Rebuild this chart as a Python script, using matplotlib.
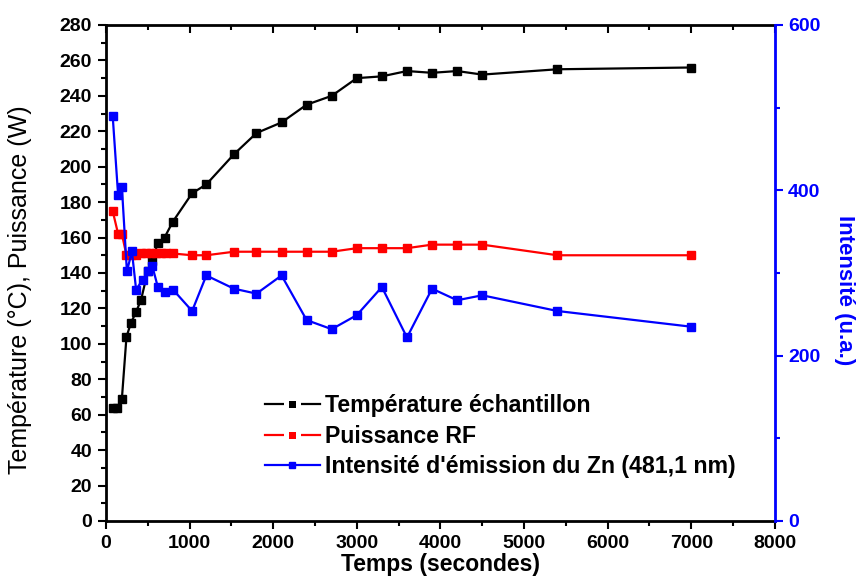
import numpy as np
import matplotlib
matplotlib.use("Agg")
import matplotlib.pyplot as plt
from matplotlib.ticker import MultipleLocator
from matplotlib.lines import Line2D

plt.rcParams['font.family'] = ['Liberation Sans', 'DejaVu Sans']

# temperature of the sample (deg C)
t_temp = [80, 130, 190, 245, 300, 360, 420, 500, 555, 620, 700, 800,
          1030, 1200, 1530, 1800, 2100, 2400, 2700, 3000, 3300, 3600,
          3900, 4200, 4500, 5400, 7000]
temp = [64, 64, 69, 104, 112, 118, 125, 141, 147, 157, 160, 169,
        185, 190, 207, 219, 225, 235, 240, 250, 251, 254,
        253, 254, 252, 255, 256]

# RF power (W)
t_rf = [80, 145, 190, 245, 300, 360, 420, 480, 540, 600, 660, 720, 800,
        1030, 1200, 1530, 1800, 2100, 2400, 2700, 3000, 3300, 3600,
        3900, 4200, 4500, 5400, 7000]
rf = [175, 162, 162, 150, 150, 150, 151, 151, 151, 151, 151, 151, 151,
      150, 150, 152, 152, 152, 152, 152, 154, 154, 154,
      156, 156, 156, 150, 150]

# Zn emission intensity (a.u.)
t_zn = [80, 145, 190, 250, 310, 360, 440, 500, 555, 620, 700, 800,
        1030, 1200, 1530, 1800, 2100, 2400, 2700, 3000, 3300, 3600,
        3900, 4200, 4500, 5400, 7000]
zn = [490, 394, 404, 302, 326, 280, 292, 302, 308, 283, 277, 280,
      254, 297, 281, 275, 297, 243, 232, 249, 283, 222,
      281, 267, 273, 254, 235]

labels = ['Température échantillon', 'Puissance RF',
          "Intensité d'émission du Zn (481,1 nm)"]

fig = plt.figure(figsize=(8.59, 5.88), dpi=100)
ax = fig.add_axes([0.1234, 0.114, 0.7786, 0.8435])
ax2 = ax.twinx()

ax.plot(t_temp, temp, color='black', lw=1.6, marker='s', ms=5.5)
ax.plot(t_rf, rf, color='red', lw=1.6, marker='s', ms=5.5)
ax2.plot(t_zn, zn, color='blue', lw=1.6, marker='s', ms=5.5)

ax.set_xlim(0, 8000)
ax.set_ylim(0, 280)
ax2.set_ylim(0, 600)

ax.xaxis.set_major_locator(MultipleLocator(1000))
ax.xaxis.set_minor_locator(MultipleLocator(500))
ax.yaxis.set_major_locator(MultipleLocator(20))
ax.yaxis.set_minor_locator(MultipleLocator(10))
ax2.yaxis.set_major_locator(MultipleLocator(200))
ax2.yaxis.set_minor_locator(MultipleLocator(100))

ax.tick_params(axis='both', which='major', direction='out', length=6, width=1.5,
               labelsize=14, pad=4)
ax.tick_params(axis='both', which='minor', direction='out', length=3.5, width=1.5)
ax.tick_params(axis='x', which='both', top=True)
ax2.tick_params(axis='y', which='major', direction='out', length=6, width=1.5,
                colors='blue', labelsize=14)
ax2.tick_params(axis='y', which='minor', direction='out', length=3.5, width=1.5,
                colors='blue')
# top ticks point inwards
for tk in ax.xaxis.get_major_ticks() + ax.xaxis.get_minor_ticks():
    tk.tick2line.set_marker(3)

for s in ['left', 'bottom', 'top']:
    ax.spines[s].set_linewidth(2)
ax2.spines['right'].set_color('blue')
ax2.spines['right'].set_linewidth(2)
for s in ['left', 'bottom', 'top']:
    ax2.spines[s].set_visible(False)

for lab in ax.get_xticklabels() + ax.get_yticklabels() + ax2.get_yticklabels():
    lab.set_fontweight('bold')

ax.set_xlabel('Temps (secondes)', fontsize=16.5, fontweight='bold', labelpad=1)
ax.set_ylabel('Température (°C), Puissance (W)', fontsize=18)
ax.yaxis.set_label_coords(-0.11, 0.466)
ax2.set_ylabel('Intensité (u.a.)', fontsize=16, fontweight='bold', color='blue',
               rotation=-90)
ax2.yaxis.set_label_coords(1.12, 0.466)

# legend proxies: black and red entries show a small gap around the symbol
h1 = Line2D([], [], color='black', lw=1.6, marker='s', ms=8.6, mfc='black',
            mec='white', mew=3.6)
h2 = Line2D([], [], color='red', lw=1.6, marker='s', ms=8.6, mfc='red',
            mec='white', mew=3.6)
h3 = Line2D([], [], color='blue', lw=1.6, marker='s', ms=4)
ax.legend(handles=[h1, h2, h3], labels=labels, loc='upper left',
          bbox_to_anchor=(0.206, 0.298), frameon=False,
          prop={'size': 16.7, 'weight': 'bold'},
          handlelength=2.4, handletextpad=0.22, labelspacing=0.33)

fig.savefig('out.png', dpi=100)
